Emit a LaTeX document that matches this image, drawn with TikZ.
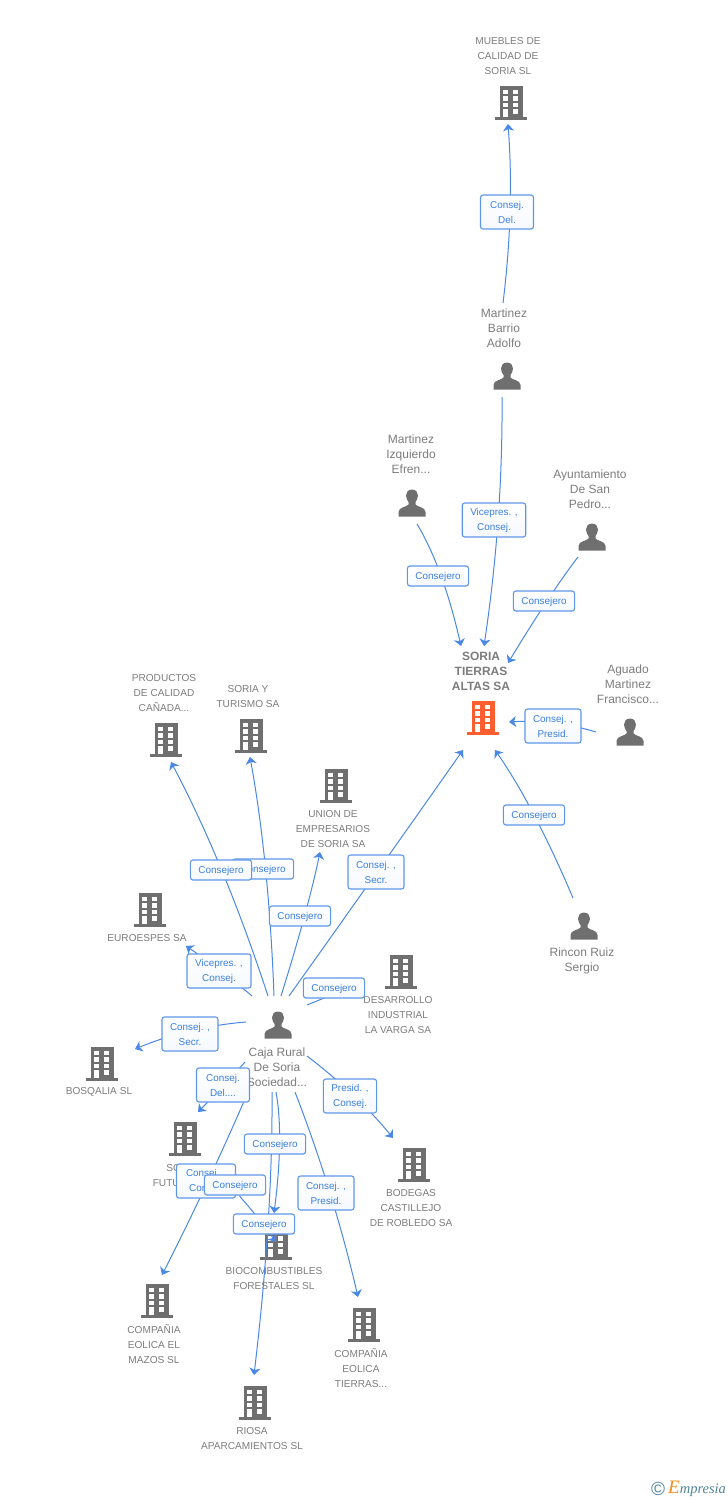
\documentclass[tikz,border=0pt]{standalone}
\usepackage{fontspec}
\setmainfont{Liberation Sans}
\newfontfamily\logoserif{Liberation Serif}
\usetikzlibrary{arrows.meta,calc}
\definecolor{linkblue}{HTML}{4A88E6}
\definecolor{boxblue}{HTML}{5F97E8}
\definecolor{labblue}{HTML}{3A7FE0}
\definecolor{txtgray}{HTML}{7C7C7C}
\definecolor{icongray}{HTML}{6F6F6F}
\definecolor{hot}{HTML}{FF5F2E}
\definecolor{logoblue}{HTML}{4F8499}
\definecolor{logoorange}{HTML}{F28A1E}
\pgfdeclarelayer{bg}
\pgfdeclarelayer{links}
\pgfsetlayers{bg,links,main}
\tikzset{
  iconpt/.style={inner sep=0pt,minimum size=0pt,outer sep=0pt},
  name text/.style={text=txtgray,align=center,inner sep=0pt,font=\fontsize{10.1}{15}\selectfont},
  person text/.style={name text,font=\fontsize{12}{15}\selectfont},
  root text/.style={name text,font=\fontsize{12}{15}\selectfont\bfseries},
  lab base/.style={draw=boxblue,line width=1.1pt,rounded corners=2.5pt,top color=white,bottom color=white!94!boxblue,
    text=labblue,align=center,font=\fontsize{9.9}{15}\selectfont,inner xsep=8pt,inner ysep=0pt},
  lab/.style={lab base,minimum height=20pt,text height=9pt,text depth=2pt},
  lab two/.style={lab base,minimum width=53pt,minimum height=34pt},
  link/.style={draw=linkblue,line width=1pt,-{Stealth[length=7pt,width=11pt,inset=2pt]}},
  pics/bld/.style={code={
    \fill[#1] (-11.5,-16.5) rectangle (11.5,15.5);
    \fill[#1] (-16,15) rectangle (16,17.5);
    \fill[white] (-7.8,-12.5) rectangle (-3.2,-8.2);
    \fill[white] (2.2,-12.5) rectangle (6.8,-8.2);
    \fill[white] (-7.8,-5.8) rectangle (-3.2,-1.5);
    \fill[white] (2.2,-5.8) rectangle (6.8,-1.5);
    \fill[white] (-7.8,0.8) rectangle (-3.2,5.2);
    \fill[white] (2.2,0.8) rectangle (6.8,5.2);
    \fill[white] (-7.8,7) rectangle (-3.2,15);
    \fill[white] (2.2,7) rectangle (6.8,12);
  }},
  pics/bld/.default=icongray,
  pics/man/.style={code={
    \fill[icongray] (0,-13.5) .. controls (4,-13.5) and (6,-10.5) .. (6,-7.5)
      .. controls (6,-4.5) and (4.5,-2.5) .. (3.5,-1) -- (3.5,1.5)
      .. controls (5,4) and (13.5,4) .. (13.5,9) -- (13.5,13.5) -- (-13.5,13.5) -- (-13.5,9)
      .. controls (-13.5,4) and (-5,4) .. (-3.5,1.5) -- (-3.5,-1)
      .. controls (-4.5,-2.5) and (-6,-4.5) .. (-6,-7.5)
      .. controls (-6,-10.5) and (-4,-13.5) .. (0,-13.5) -- cycle;
  }},
}
\newcommand{\conn}[3]{%
  \coordinate (cS) at (#1);\coordinate (cM) at (#2);\coordinate (cE) at (#3);
  \draw[link] (cS) .. controls ($1.3333*(cM)-0.3333*(cE)$) and ($1.3333*(cM)-0.3333*(cS)$) .. (cE);}
\begin{document}
\begin{tikzpicture}[x=1pt,y=-1pt]
\useasboundingbox (0,0) rectangle (728,1500);
\begin{pgfonlayer}{bg}
  \node[iconpt] (muebles) at (511,102) {}; \pic at (muebles) {bld};
  \node[name text] (tmuebles) at (508,56) {MUEBLES DE\\CALIDAD DE\\SORIA SL};
  \node[iconpt] (barrio) at (507,376) {}; \pic at (barrio) {man};
  \node[person text] (tbarrio) at (504,328) {Martinez\\Barrio\\Adolfo};
  \node[iconpt] (efren) at (412,503) {}; \pic at (efren) {man};
  \node[person text] (tefren) at (411,454) {Martinez\\Izquierdo\\Efren...};
  \node[iconpt] (ayunt) at (592,537) {}; \pic at (ayunt) {man};
  \node[person text] (tayunt) at (590,489) {Ayuntamiento\\De San\\Pedro...};
  \node[iconpt] (soria) at (483,717) {}; \pic at (soria) {bld=hot};
  \node[root text] (tsoria) at (481,671) {SORIA\\TIERRAS\\ALTAS SA};
  \node[iconpt] (aguado) at (630,732) {}; \pic at (aguado) {man};
  \node[person text] (taguado) at (628,684) {Aguado\\Martinez\\Francisco...};
  \node[iconpt] (rincon) at (584,926) {}; \pic at (rincon) {man};
  \node[person text] (trincon) at (582,960.5) {Rincon Ruiz\\Sergio};
  \node[iconpt] (productos) at (166,739) {}; \pic at (productos) {bld};
  \node[name text] (tproductos) at (164,693) {PRODUCTOS\\DE CALIDAD\\CAÑADA...};
  \node[iconpt] (turismo) at (251,735) {}; \pic at (turismo) {bld};
  \node[name text] (tturismo) at (248,696.5) {SORIA Y\\TURISMO SA};
  \node[iconpt] (union) at (336,785) {}; \pic at (union) {bld};
  \node[name text] (tunion) at (333,829) {UNION DE\\EMPRESARIOS\\DE SORIA SA};
  \node[iconpt] (euroespes) at (150,909) {}; \pic at (euroespes) {bld};
  \node[name text] (teuroespes) at (147,938) {EUROESPES SA};
  \node[iconpt] (desarrollo) at (401,971) {}; \pic at (desarrollo) {bld};
  \node[name text] (tdesarrollo) at (398,1015) {DESARROLLO\\INDUSTRIAL\\LA VARGA SA};
  \node[iconpt] (caja) at (278,1025) {}; \pic at (caja) {man};
  \node[person text] (tcaja) at (277,1067) {Caja Rural\\De Soria\\Sociedad...};
  \node[iconpt] (bosqalia) at (102,1063) {}; \pic at (bosqalia) {bld};
  \node[name text] (tbosqalia) at (99,1092) {BOSQALIA SL};
  \node[iconpt] (futuro) at (185,1138) {}; \pic at (futuro) {bld};
  \node[name text] (tfuturo) at (182,1175.5) {SORIA\\FUTURO SA};
  \node[iconpt] (bodegas) at (414,1164) {}; \pic at (bodegas) {bld};
  \node[name text] (tbodegas) at (411,1208) {BODEGAS\\CASTILLEJO\\DE ROBLEDO SA};
  \node[iconpt] (bio) at (276,1242) {}; \pic at (bio) {bld};
  \node[name text] (tbio) at (274,1278.5) {BIOCOMBUSTIBLES\\FORESTALES SL};
  \node[iconpt] (mazos) at (157,1300) {}; \pic at (mazos) {bld};
  \node[name text] (tmazos) at (154,1344) {COMPAÑIA\\EOLICA EL\\MAZOS SL};
  \node[iconpt] (tierras) at (364,1324) {}; \pic at (tierras) {bld};
  \node[name text] (ttierras) at (361,1368) {COMPAÑIA\\EOLICA\\TIERRAS...};
  \node[iconpt] (riosa) at (255,1402) {}; \pic at (riosa) {bld};
  \node[name text] (triosa) at (252,1438.5) {RIOSA\\APARCAMIENTOS SL};
  \node[inner sep=0pt,text=logoblue,font=\fontsize{19}{19}\selectfont] (logoc) at (658,1489) {©};
  \node[inner sep=0pt,anchor=base west,font=\logoserif\itshape\fontsize{14.5}{14}\selectfont,text=logoblue] (logot) at (668,1493)
    {{\color{logoorange}\fontsize{19}{19}\selectfont E}mpresia};
\end{pgfonlayer}
\node[lab two] (l1) at (507,212) {Consej.\\Del.};
\node[lab two,minimum width=56pt] (l2) at (494,520) {Vicepres. ,\\Consej.};
\node[lab] (l3) at (438,576) {Consejero};
\node[lab] (l4) at (544,601) {Consejero};
\node[lab two,minimum width=56pt] (l5) at (553,726) {Consej. ,\\Presid.};
\node[lab] (l6) at (534,815) {Consejero};
\node[lab two,minimum width=56pt] (l7) at (376,872) {Consej. ,\\Secr.};
\node[lab] (l9) at (263,869) {Consejero};
\node[lab] (l8) at (221,870) {Consejero};
\node[lab] (l10) at (300,916) {Consejero};
\node[lab two,minimum width=64pt] (l11) at (219,971) {Vicepres. ,\\Consej.};
\node[lab] (l12) at (334,988) {Consejero};
\node[lab two,minimum width=56pt] (l13) at (190,1034) {Consej. ,\\Secr.};
\node[lab two] (l14) at (223,1085) {Consej.\\Del....};
\node[lab two] (l20) at (350,1096) {Presid. ,\\Consej.};
\node[lab] (l17) at (275,1144) {Consejero};
\node[lab two,minimum width=59pt] (l15) at (206,1181) {Consej. ,\\Consej.};
\node[lab] (l16) at (235,1185) {Consejero};
\node[lab two,minimum width=56pt] (l19) at (326,1193) {Consej. ,\\Presid.};
\node[lab] (l18) at (264,1224) {Consejero};
\begin{pgfonlayer}{links}
  \conn{[shift={(-4,-73)}]barrio}{[shift={(3,0)}]l1}{[shift={(-3,22)}]muebles}
  \conn{[shift={(-5,21)}]barrio}{[shift={(4,0)}]l2}{[shift={(1,-71)}]soria}
  \conn{[shift={(5,21)}]efren}{[shift={(3,0)}]l3}{[shift={(-22,-71)}]soria}
  \conn{[shift={(-14,20)}]ayunt}{[shift={(3,0)}]l4}{[shift={(25,-54)}]soria}
  \conn{[shift={(-34,0)}]aguado}{[shift={(0,-3)}]l5}{[shift={(26,5)}]soria}
  \conn{[shift={(-11,-28)}]rincon}{l6}{[shift={(12,33)}]soria}
  \conn{[shift={(11,-29)}]caja}{[shift={(1,0)}]l7}{[shift={(-20,33)}]soria}
  \conn{[shift={(-10,-29)}]caja}{[shift={(1,1)}]l8}{[shift={(5,23)}]productos}
  \conn{[shift={(-4,-29)}]caja}{[shift={(2.5,0)}]l9}{[shift={(-1,22)}]turismo}
  \conn{[shift={(3,-29)}]caja}{[shift={(4.5,0)}]l10}{[shift={(-16,67)}]union}
  \conn{[shift={(-26,-29)}]caja}{[shift={(2,0)}]l11}{[shift={(36,37)}]euroespes}
  \conn{[shift={(29,-20)}]caja}{[shift={(0,6)}]l12}{[shift={(-40,12)}]desarrollo}
  \conn{[shift={(-32,-3)}]caja}{[shift={(0,-3)}]l13}{[shift={(33,-14)}]bosqalia}
  \conn{[shift={(-33,37)}]caja}{[shift={(0,1)}]l14}{[shift={(13,-26)}]futuro}
  \conn{[shift={(-30,67)}]caja}{[shift={(1.5,1)}]l15}{[shift={(5,-25)}]mazos}
  \draw[link] (l16) .. controls +(6,14) and +(-7,-9) .. ([shift={(-19,-27)}]bio);
  \conn{[shift={(-2,67)}]caja}{[shift={(4.5,0)}]l17}{[shift={(-2,-29)}]bio}
  \conn{[shift={(-6,67)}]caja}{[shift={(4,0)}]l18}{[shift={(-1,-27)}]riosa}
  \conn{[shift={(17,67)}]caja}{[shift={(4,0)}]l19}{[shift={(-6,-27)}]tierras}
  \conn{[shift={(29,31)}]caja}{[shift={(4,0)}]l20}{[shift={(-21,-26)}]bodegas}
\end{pgfonlayer}
\end{tikzpicture}
\end{document}
